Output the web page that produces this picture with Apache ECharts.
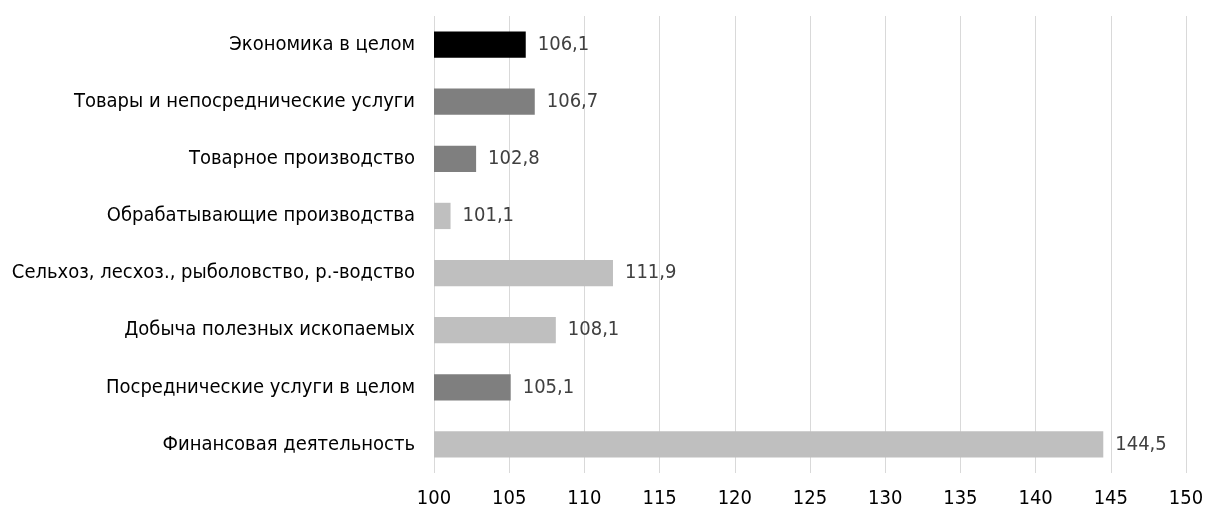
<!DOCTYPE html>
<html>
<head>
<meta charset="utf-8">
<script src="https://cdn.jsdelivr.net/npm/echarts@6/dist/echarts.min.js"></script>
<style>
  html, body { margin: 0; padding: 0; background: #fff; }
  #chart { width: 1206px; height: 526px; }
</style>
</head>
<body>
<div id="chart"></div>
<script>
const categories = [
  'Экономика в целом',
  'Товары и непосреднические услуги',
  'Товарное производство',
  'Обрабатывающие производства',
  'Сельхоз, лесхоз., рыболовство, р.-водство',
  'Добыча полезных ископаемых',
  'Посреднические услуги в целом',
  'Финансовая деятельность'
]
const values = [106.1, 106.7, 102.8, 101.1, 111.9, 108.1, 105.1, 144.5]
// shade group per bar: 0 = black, 1 = dark grey, 2 = light grey
const shades = [0, 1, 1, 2, 2, 2, 1, 2]
const palette = ['#000000', '#7f7f7f', '#bfbfbf']

const font = '"DejaVu Sans Condensed", "Open Sans", sans-serif'

const chart = echarts.init(document.getElementById('chart'))
chart.setOption({
  animation: false,
  grid: {
    left: 434,
    right: 20,
    top: 16,
    bottom: 53,
    outerBoundsMode: 'none',
    containLabel: false
  },
  xAxis: {
    type: 'value',
    min: 100,
    max: 150,
    interval: 5,
    axisLine: { show: false },
    axisTick: { show: false },
    splitLine: { lineStyle: { color: '#d9d9d9', width: 1 } },
    axisLabel: {
      margin: 16,
      color: '#000',
      fontSize: 20,
      fontFamily: font
    }
  },
  yAxis: {
    type: 'category',
    inverse: true,
    data: categories,
    axisLine: { show: false },
    axisTick: { show: false },
    axisLabel: {
      margin: 19,
      color: '#000',
      fontSize: 20,
      fontFamily: font
    }
  },
  series: [{
    type: 'bar',
    barCategoryGap: '54%',
    data: values.map((v, i) => ({
      value: v,
      itemStyle: { color: palette[shades[i]] }
    })),
    label: {
      show: true,
      position: 'right',
      distance: 12,
      color: '#404040',
      fontSize: 20,
      fontFamily: font,
      formatter: p => String(p.value).replace('.', ',')
    }
  }]
})
</script>
</body>
</html>
